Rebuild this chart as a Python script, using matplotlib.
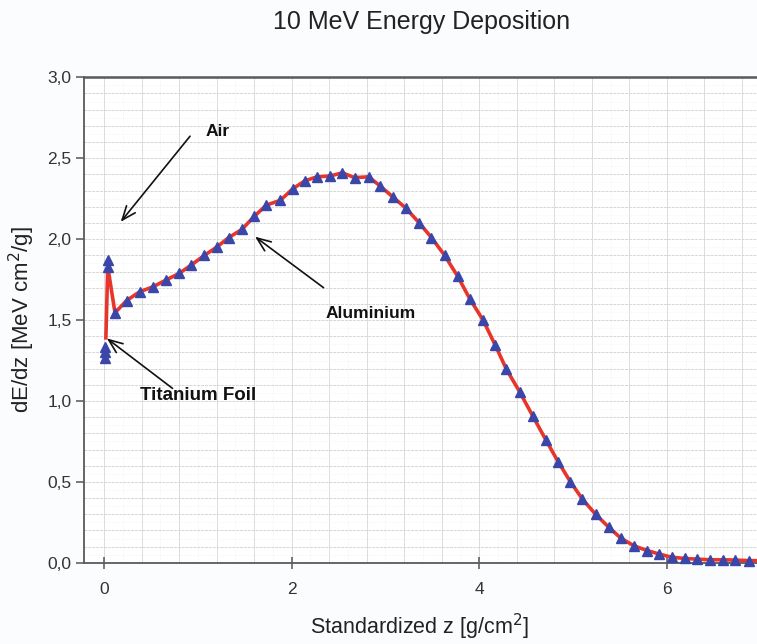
"""
10 MeV energy deposition curve (dE/dz vs standardized depth).
"""
import matplotlib
matplotlib.use("Agg")
import matplotlib.pyplot as plt
from matplotlib.ticker import MultipleLocator, FuncFormatter

plt.rcParams["font.family"] = ["Liberation Sans", "DejaVu Sans"]

# --- data ------------------------------------------------------------------
# titanium foil and air points near z=0
ti_z = [0.01, 0.01, 0.01]
ti_dedz = [1.265, 1.30, 1.335]
air_z = [0.04, 0.04]
air_dedz = [1.83, 1.87]

# aluminium points (triangles)
al_z = [0.117, 0.24, 0.38, 0.52, 0.66, 0.80, 0.93, 1.07, 1.20, 1.33,
        1.47, 1.60, 1.73, 1.88, 2.01, 2.14, 2.27, 2.41, 2.54, 2.67,
        2.82, 2.94, 3.08, 3.22, 3.36, 3.49, 3.63, 3.77, 3.90, 4.04,
        4.17, 4.29, 4.43, 4.57, 4.71, 4.84, 4.97, 5.10, 5.24, 5.38,
        5.51, 5.65, 5.79, 5.92, 6.05, 6.19, 6.32, 6.46, 6.60, 6.73,
        6.87]
al_dedz = [1.545, 1.62, 1.675, 1.705, 1.747, 1.788, 1.84, 1.90, 1.95, 2.01,
           2.06, 2.14, 2.21, 2.24, 2.31, 2.36, 2.385, 2.39, 2.41, 2.38,
           2.385, 2.33, 2.26, 2.19, 2.10, 2.01, 1.90, 1.77, 1.63, 1.50,
           1.345, 1.195, 1.057, 0.907, 0.759, 0.625, 0.502, 0.393, 0.300, 0.220,
           0.152, 0.105, 0.076, 0.054, 0.035, 0.027, 0.023, 0.019, 0.019, 0.017,
           0.014]

# red calculated curve: foil jump, air peak, then follows the aluminium points
curve_z = [0.02, 0.04] + al_z + [7.0]
curve_dedz = [1.39, 1.83] + al_dedz + [0.013]

# ---------------------------------------------------------------------------
fig = plt.figure(figsize=(7.57, 6.44), dpi=100)
fig.patch.set_facecolor("#fbfcfd")
ax = fig.add_axes([0.111, 0.126, 0.889, 0.754])
ax.set_facecolor("white")

ax.plot(curve_z, curve_dedz, color="#e8352b", lw=2.6, zorder=3, clip_on=False)
tri = dict(marker="^", ls="none", ms=7, color="#3a46a8", zorder=4, clip_on=False)
ax.plot(al_z, al_dedz, **tri)
ax.plot(ti_z, ti_dedz, **tri)
ax.plot(air_z, air_dedz, **tri)

ax.set_xlim(-0.213, 6.96)
ax.set_ylim(0, 3.0)

ax.xaxis.set_major_locator(MultipleLocator(2))
ax.yaxis.set_major_locator(MultipleLocator(0.5))
ax.yaxis.set_major_formatter(FuncFormatter(lambda v, p: f"{v:.1f}".replace(".", ",")))

# grid: vertical every 0.4, horizontal every 0.1
for gx in [0.4 * i for i in range(0, 18)]:
    ax.axvline(gx, color="#dcdcdc", lw=0.7, zorder=0)
for gx in [0.2 + 0.4 * i for i in range(0, 17)]:
    ax.axvline(gx, color="#ececec", lw=0.5, ls=":", zorder=0)
for gy in [0.1 * i for i in range(1, 30)]:
    ax.axhline(gy, color="#d6d6d6", lw=0.7, ls=(0, (3, 1)), zorder=0)
for gy in [0.05 + 0.1 * i for i in range(0, 30)]:
    ax.axhline(gy, color="#ededed", lw=0.5, ls=":", zorder=0)

for s in ["left", "bottom", "top"]:
    ax.spines[s].set_color("#5a5a5a")
ax.spines["top"].set_linewidth(1.8)
ax.spines["left"].set_linewidth(1.3)
ax.spines["bottom"].set_linewidth(1.3)
ax.spines["right"].set_visible(False)

ax.tick_params(axis="y", direction="out", length=6, width=1.1, colors="#555555",
               labelcolor="#333333", labelsize=12.5, pad=3)
ax.tick_params(axis="x", direction="inout", length=9, width=1.1, colors="#555555",
               labelcolor="#333333", labelsize=12.5, pad=9)

ax.set_xlabel("Standardized z [g/cm$^2$]", fontsize=15.5, color="#222222", va="center")
ax.xaxis.set_label_coords(0.499, -0.132)
ax.set_ylabel("dE/dz [MeV cm$^2$/g]", fontsize=16, color="#222222", va="center")
ax.yaxis.set_label_coords(-0.092, 0.5)
fig.text(0.557, 0.966, "10 MeV Energy Deposition", ha="center", va="center",
         fontsize=18, color="#222222")

arrow = dict(arrowstyle="->,head_length=1.0,head_width=0.4", color="#111111", lw=1.2,
             shrinkA=0, shrinkB=0)
lab = dict(ha="center", va="center", fontsize=12.5, fontweight="bold", color="#111111")
ax.annotate("", xy=(0.178, 2.107), xytext=(0.917, 2.636), arrowprops=arrow)
ax.text(1.215, 2.667, "Air", **lab)
ax.annotate("", xy=(1.61, 2.015), xytext=(2.34, 1.70), arrowprops=arrow)
ax.text(2.84, 1.54, "Aluminium", **lab)
ax.annotate("", xy=(0.03, 1.387), xytext=(0.73, 1.078), arrowprops=arrow)
ax.text(1.0, 1.037, "Titanium Foil", **dict(lab, fontsize=13.5))

fig.savefig("out.png", dpi=100, facecolor=fig.get_facecolor())
